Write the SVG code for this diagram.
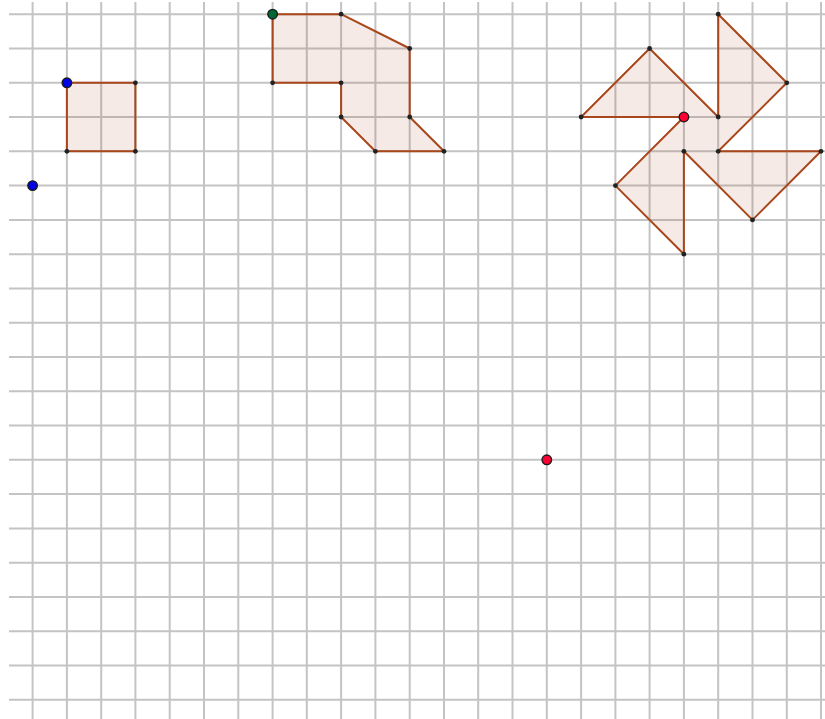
<svg xmlns="http://www.w3.org/2000/svg" width="825" height="719" viewBox="0 0 825 719">
<style>
.g{stroke:#c4c4c4;stroke-width:2;fill:none}
.poly{fill:#993300;fill-opacity:0.1;stroke:#a8461c;stroke-width:2;stroke-linejoin:round}
.v{fill:#222}
.big{stroke:#1a1a1a;stroke-width:1.3}
</style>
<rect width="825" height="719" fill="#fff"/>
<g id="grid" class="g">
<path d="M32.6 2V719M66.9 2V719M101.2 2V719M135.4 2V719M169.7 2V719M204 2V719M238.3 2V719M272.6 2V719M306.8 2V719M341.1 2V719M375.4 2V719M409.7 2V719M444 2V719M478.2 2V719M512.5 2V719M546.8 2V719M581.1 2V719M615.4 2V719M649.6 2V719M683.9 2V719M718.2 2V719M752.5 2V719M786.8 2V719M821 2V719"/>
<path d="M9 14.2H825M9 48.5H825M9 82.8H825M9 117H825M9 151.3H825M9 185.6H825M9 219.9H825M9 254.2H825M9 288.4H825M9 322.7H825M9 357H825M9 391.3H825M9 425.6H825M9 459.8H825M9 494.1H825M9 528.4H825M9 562.7H825M9 597H825M9 631.2H825M9 665.5H825M9 699.8H825"/>
</g>
<g id="square">
<polygon class="poly" points="66.9,82.8 135.4,82.8 135.4,151.3 66.9,151.3"/>
<circle class="v" cx="135.4" cy="82.8" r="2.4"/>
<circle class="v" cx="135.4" cy="151.3" r="2.4"/>
<circle class="v" cx="66.9" cy="151.3" r="2.4"/>
<circle class="big" cx="66.9" cy="82.8" r="4.8" fill="#0000e6"/>
</g>
<g id="point-blue">
<circle class="big" cx="32.6" cy="185.6" r="4.8" fill="#0000e6"/>
</g>
<g id="shape2">
<polygon class="poly" points="272.6,14.2 341.1,14.2 409.7,48.5 409.7,117 444,151.3 375.4,151.3 341.1,117 341.1,82.8 272.6,82.8"/>
<circle class="v" cx="341.1" cy="14.2" r="2.4"/>
<circle class="v" cx="409.7" cy="48.5" r="2.4"/>
<circle class="v" cx="409.7" cy="117" r="2.4"/>
<circle class="v" cx="444" cy="151.3" r="2.4"/>
<circle class="v" cx="375.4" cy="151.3" r="2.4"/>
<circle class="v" cx="341.1" cy="117" r="2.4"/>
<circle class="v" cx="341.1" cy="82.8" r="2.4"/>
<circle class="v" cx="272.6" cy="82.8" r="2.4"/>
<circle class="big" cx="272.6" cy="14.2" r="4.8" fill="#006633"/>
</g>
<g id="pinwheel">
<polygon class="poly" points="581.1,117 649.6,48.5 718.2,117 718.2,14.2 786.8,82.8 718.2,151.3 821,151.3 752.5,219.9 683.9,151.3 683.9,254.2 615.4,185.6 683.9,117"/>
<circle class="v" cx="581.1" cy="117" r="2.4"/>
<circle class="v" cx="649.6" cy="48.5" r="2.4"/>
<circle class="v" cx="718.2" cy="117" r="2.4"/>
<circle class="v" cx="718.2" cy="14.2" r="2.4"/>
<circle class="v" cx="786.8" cy="82.8" r="2.4"/>
<circle class="v" cx="718.2" cy="151.3" r="2.4"/>
<circle class="v" cx="821" cy="151.3" r="2.4"/>
<circle class="v" cx="752.5" cy="219.9" r="2.4"/>
<circle class="v" cx="683.9" cy="151.3" r="2.4"/>
<circle class="v" cx="683.9" cy="254.2" r="2.4"/>
<circle class="v" cx="615.4" cy="185.6" r="2.4"/>
<circle class="big" cx="683.9" cy="117" r="4.8" fill="#ff0033"/>
</g>
<g id="point-red">
<circle class="big" cx="546.8" cy="459.8" r="4.8" fill="#ff0033"/>
</g>
</svg>
